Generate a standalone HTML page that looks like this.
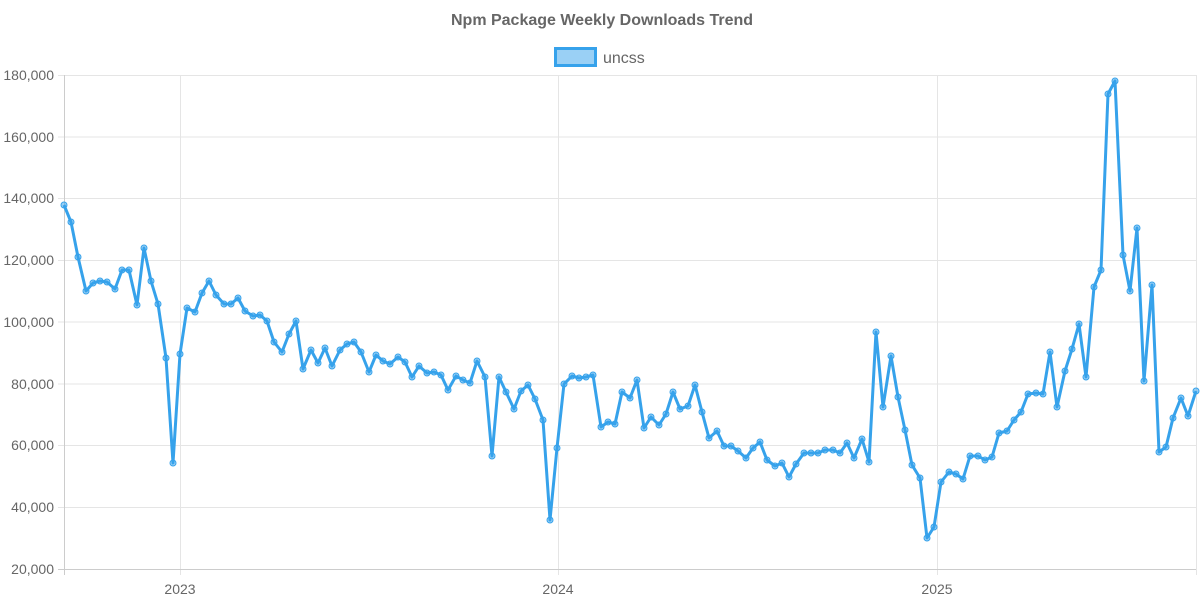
<!DOCTYPE html>
<html><head><meta charset="utf-8"><style>
body{margin:0;background:#fff;}
svg text{font-family:"Liberation Sans",Arial,sans-serif;fill:#666;}
</style></head><body>
<svg width="1200" height="600" viewBox="0 0 1200 600" xmlns="http://www.w3.org/2000/svg">
<text x="602" y="25" text-anchor="middle" font-size="16" font-weight="bold">Npm Package Weekly Downloads Trend</text>
<rect x="555.5" y="48.5" width="40" height="17" fill="rgba(54,162,235,0.5)" stroke="#36A2EB" stroke-width="3"/>
<text x="603" y="63" font-size="16">uncss</text>
<g stroke="#e5e5e5" stroke-width="1">
<line x1="58" x2="1196" y1="75.5" y2="75.5"/>
<line x1="58" x2="1196" y1="137" y2="137"/>
<line x1="58" x2="1196" y1="198.5" y2="198.5"/>
<line x1="58" x2="1196" y1="260.5" y2="260.5"/>
<line x1="58" x2="1196" y1="322" y2="322"/>
<line x1="58" x2="1196" y1="384" y2="384"/>
<line x1="58" x2="1196" y1="445.5" y2="445.5"/>
<line x1="58" x2="1196" y1="507.5" y2="507.5"/>
<line x1="180.5" x2="180.5" y1="75" y2="575"/>
<line x1="558.5" x2="558.5" y1="75" y2="575"/>
<line x1="937.5" x2="937.5" y1="75" y2="575"/>
<line x1="1196.5" x2="1196.5" y1="75" y2="575"/>
</g>
<line x1="64.5" x2="64.5" y1="75" y2="575" stroke="#ccc"/>
<line x1="58" x2="1196" y1="569.5" y2="569.5" stroke="#ccc"/>
<g font-size="14" text-anchor="end">
<text x="54" y="80">180,000</text>
<text x="54" y="142">160,000</text>
<text x="54" y="203">140,000</text>
<text x="54" y="265">120,000</text>
<text x="54" y="327">100,000</text>
<text x="54" y="389">80,000</text>
<text x="54" y="450">60,000</text>
<text x="54" y="512">40,000</text>
<text x="54" y="574">20,000</text>
</g>
<g font-size="14" text-anchor="middle">
<text x="180" y="594">2023</text>
<text x="558" y="594">2024</text>
<text x="937" y="594">2025</text>
</g>
<polyline id="ln" fill="none" stroke="#36A2EB" stroke-width="3" stroke-linejoin="round" points="64,205 71,222 78,257 86,291 93,283 100,281 107,282 115,289 122,270 129,270 137,305 144,248 151,281 158,304 166,358 173,463 180,354 187,308 195,312 202,293 209,281 216,295 224,304 231,304 238,298 245,311 253,316 260,315 267,321 274,342 282,352 289,334 296,321 303,369 311,350 318,363 325,348 332,366 340,350 347,344 354,342 361,352 369,372 376,355 383,361 390,364 398,357 405,362 412,377 419,366 427,373 434,372 441,375 448,390 456,376 463,380 470,383 477,361 485,377 492,456 499,377 506,392 514,409 521,391 528,385 535,399 543,420 550,520 557,448 564,384 572,376 579,378 586,377 593,375 601,427 608,422 615,424 622,392 630,398 637,380 644,428 651,417 659,425 666,414 673,392 680,409 688,406 695,385 702,412 709,438 717,431 724,446 731,446 738,451 746,458 753,448 760,442 767,460 775,466 782,463 789,477 796,464 804,453 811,453 818,453 825,450 833,450 840,453 847,443 854,458 862,439 869,462 876,332 883,407 891,356 898,397 905,430 912,465 920,478 927,538 934,527 941,482 949,472 956,474 963,479 970,456 978,456 985,460 992,457 999,433 1007,431 1014,420 1021,412 1028,394 1036,393 1043,394 1050,352 1057,407 1065,371 1072,349 1079,324 1086,377 1094,287 1101,270 1108,94 1115,81 1123,255 1130,291 1137,228 1144,381 1152,285 1159,452 1166,447 1173,418 1181,398 1188,416 1196,391"/>
<g id="pts" fill="rgba(54,162,235,0.5)" stroke="#36A2EB" stroke-width="1"></g>
</svg>
<script>
var p=document.getElementById('ln').getAttribute('points').trim().split(/\s+/),g=document.getElementById('pts'),h='';
p.forEach(function(s){var a=s.split(',');h+='<circle cx="'+a[0]+'" cy="'+a[1]+'" r="3"/>';});
g.innerHTML=h;
</script>
</body></html>
